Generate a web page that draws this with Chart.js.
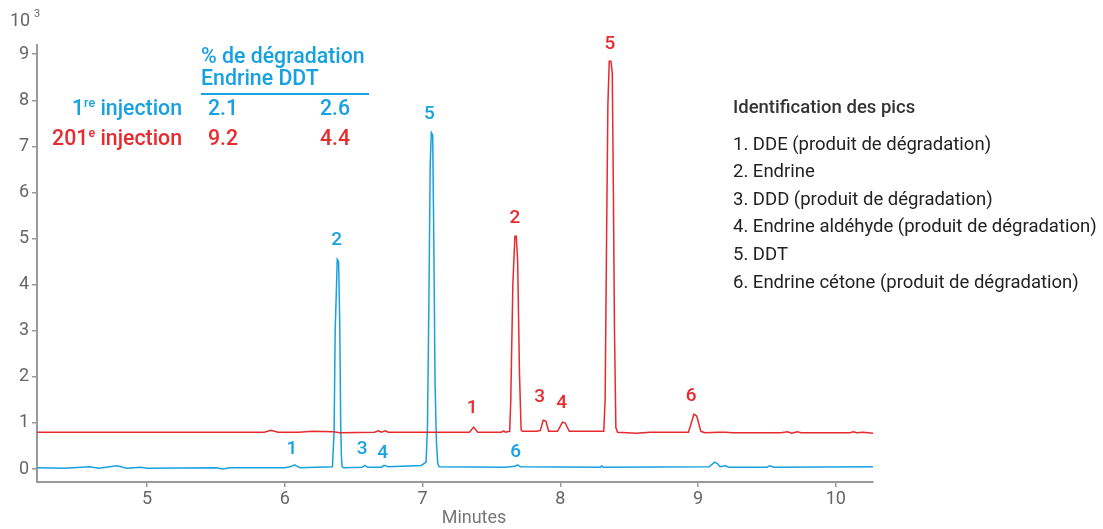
<!DOCTYPE html>
<html lang="fr">
<head>
  <meta charset="UTF-8">
  <title>Dégradation Endrine / DDT</title>
  <script src="https://cdn.jsdelivr.net/npm/chart.js"></script>
  <style>
    body { margin: 0; background: #fff; }
    #wrap { width: 1103px; height: 529px; }
  </style>
</head>
<body>
  <div id="wrap"><canvas id="chart" width="1103" height="529"></canvas></div>

  <script>
    // x axis (minutes) and y axis (10^3 counts)
    const xTicks = [5, 6, 7, 8, 9, 10];
    const yTicks = [0, 1, 2, 3, 4, 5, 6, 7, 8, 9];

    // 1st injection trace (blue)
    const blueTime = [4.2, 4.4, 4.58, 4.65, 4.78, 4.85, 4.95, 5.0, 5.5, 5.55, 5.6, 6.0, 6.05, 6.07, 6.09, 6.11,
      6.345, 6.357, 6.365, 6.373, 6.38, 6.39, 6.398, 6.405, 6.41, 6.415, 6.425, 6.56, 6.58, 6.60, 6.70, 6.72, 6.75,
      6.99, 7.025, 7.035, 7.045, 7.055, 7.063, 7.073, 7.081, 7.09, 7.1, 7.11, 7.12, 7.6, 7.67, 7.69, 7.71,
      8.29, 8.3, 8.31, 9.08, 9.12, 9.14, 9.16, 9.2, 9.22, 9.5, 9.52, 9.55, 10.27];
    const blueSignal = [0.03, 0.02, 0.05, 0.02, 0.07, 0.02, 0.04, 0.02, 0.03, 0.0, 0.03, 0.03, 0.06, 0.09, 0.06, 0.03,
      0.05, 0.8, 3.0, 3.8, 4.55, 4.5, 3.2, 1.0, 0.3, 0.06, 0.03, 0.04, 0.08, 0.04, 0.04, 0.08, 0.05,
      0.08, 0.15, 0.9, 3.5, 6.6, 7.3, 7.25, 5.0, 1.9, 0.6, 0.12, 0.05, 0.04, 0.06, 0.09, 0.05,
      0.04, 0.07, 0.04, 0.05, 0.15, 0.12, 0.05, 0.07, 0.04, 0.04, 0.07, 0.04, 0.05];

    // 201st injection trace (red)
    const redTime = [4.2, 5.85, 5.9, 5.95, 6.1, 6.2, 6.35, 6.4, 6.65, 6.68, 6.7, 6.73, 6.75, 7.34, 7.37, 7.40,
      7.57, 7.59, 7.6, 7.632, 7.64, 7.655, 7.67, 7.68, 7.69, 7.703, 7.715, 7.725, 7.83, 7.855, 7.875, 7.895, 7.915,
      7.98, 8.015, 8.035, 8.065, 8.315, 8.325, 8.335, 8.345, 8.355, 8.367, 8.377, 8.385, 8.393, 8.403, 8.415,
      8.55, 8.6, 8.65, 8.93, 8.97, 8.99, 9.02, 9.05, 9.15, 9.2, 9.25, 9.6, 9.65, 9.68, 9.72, 9.75,
      10.1, 10.13, 10.15, 10.2, 10.27];
    const redSignal = [0.80, 0.80, 0.84, 0.80, 0.80, 0.82, 0.81, 0.79, 0.80, 0.83, 0.80, 0.83, 0.80, 0.80, 0.91, 0.80,
      0.80, 0.83, 0.80, 0.82, 1.5, 4.0, 5.05, 5.05, 4.5, 2.1, 0.85, 0.82, 0.82, 0.84, 1.06, 1.04, 0.82,
      0.82, 1.02, 1.0, 0.82, 0.82, 1.5, 4.8, 7.9, 8.85, 8.85, 8.6, 6.0, 3.0, 0.9, 0.8,
      0.78, 0.79, 0.80, 0.80, 1.19, 1.15, 0.82, 0.79, 0.80, 0.80, 0.79, 0.79, 0.81, 0.78, 0.81, 0.79,
      0.79, 0.81, 0.79, 0.80, 0.78];

    // peak numbers: x position (min) and label height (10^3)
    const bluePeakIds = ['1', '2', '3', '4', '5', '6'];
    const bluePeakX = [6.05, 6.375, 6.56, 6.71, 7.05, 7.675];
    const bluePeakLabelY = [0.43, 4.97, 0.43, 0.35, 7.70, 0.37];
    const redPeakIds = ['1', '2', '3', '4', '5', '6'];
    const redPeakX = [7.36, 7.67, 7.85, 8.01, 8.36, 8.95];
    const redPeakLabelY = [1.32, 5.44, 1.56, 1.43, 9.22, 1.58];

    const endrineDeg = ['2.1', '9.2'];
    const ddtDeg = ['2.6', '4.4'];

    const peakNames = [
      '1. DDE (produit de dégradation)',
      '2. Endrine',
      '3. DDD (produit de dégradation)',
      '4. Endrine aldéhyde (produit de dégradation)',
      '5. DDT',
      '6. Endrine cétone (produit de dégradation)'
    ];

    const BLUE = '#17a1e0';
    const RED = '#e62a2e';
    const FONT = 'Roboto, "Noto Sans", sans-serif';

    const toPoints = (xs, ys) => xs.map((x, i) => ({ x: x, y: ys[i] }));

    const annotations = {
      id: 'annotations',
      afterDraw(chart) {
        const ctx = chart.ctx;
        const xs = chart.scales.x, ys = chart.scales.y;
        ctx.save();

        // peak numbers
        ctx.font = '500 19px ' + FONT;
        ctx.textAlign = 'center';
        ctx.textBaseline = 'middle';
        ctx.fillStyle = BLUE;
        bluePeakIds.forEach((id, i) => {
          ctx.fillText(id, xs.getPixelForValue(bluePeakX[i]), ys.getPixelForValue(bluePeakLabelY[i]));
        });
        ctx.fillStyle = RED;
        redPeakIds.forEach((id, i) => {
          ctx.fillText(id, xs.getPixelForValue(redPeakX[i]), ys.getPixelForValue(redPeakLabelY[i]));
        });

        // axis title and unit label 10^3
        ctx.fillStyle = '#777';
        ctx.font = '18px ' + FONT;
        ctx.fillText('Minutes', 474, 518);
        ctx.textAlign = 'left';
        ctx.fillStyle = '#666';
        ctx.fillText('10', 10, 21);
        ctx.font = '11px ' + FONT;
        ctx.fillText('3', 34, 14);

        // degradation table
        const big = '500 21.3px ' + FONT;
        ctx.font = big;
        ctx.fillStyle = BLUE;
        ctx.fillText('% de dégradation', 201, 58);
        ctx.fillText('Endrine DDT', 201, 80);
        ctx.strokeStyle = BLUE;
        ctx.lineWidth = 2;
        ctx.beginPath();
        ctx.moveTo(201, 94);
        ctx.lineTo(369, 94);
        ctx.stroke();

        const rowY = [110, 140];
        const rowColor = [BLUE, RED];
        const sup = ['re', 'e'];
        const lead = ['1', '201'];
        rowY.forEach((y, i) => {
          ctx.fillStyle = rowColor[i];
          ctx.font = big;
          ctx.textAlign = 'right';
          ctx.fillText(' injection', 182, y);
          const w1 = ctx.measureText(' injection').width;
          ctx.font = '500 12.5px ' + FONT;
          const w2 = ctx.measureText(sup[i]).width;
          ctx.fillText(sup[i], 182 - w1, y - 6);
          ctx.font = big;
          ctx.fillText(lead[i], 182 - w1 - w2, y);
          ctx.textAlign = 'left';
          ctx.fillText(endrineDeg[i], 208, y);
          ctx.fillText(ddtDeg[i], 320, y);
        });

        // peak identification list
        ctx.fillStyle = '#333';
        ctx.font = '500 18.5px ' + FONT;
        ctx.fillText('Identification des pics', 733, 108);
        ctx.fillStyle = '#222';
        ctx.font = '18.5px ' + FONT;
        peakNames.forEach((name, i) => {
          ctx.fillText(name, 733, 145 + i * 27.6);
        });
        ctx.restore();
      }
    };

    new Chart(document.getElementById('chart'), {
      type: 'line',
      data: {
        datasets: [
          {
            label: '201e injection',
            data: toPoints(redTime, redSignal),
            borderColor: RED,
            borderWidth: 1.5,
            pointRadius: 0,
            tension: 0
          },
          {
            label: '1re injection',
            data: toPoints(blueTime, blueSignal),
            borderColor: BLUE,
            borderWidth: 1.5,
            pointRadius: 0,
            tension: 0
          }
        ]
      },
      options: {
        responsive: false,
        animation: false,
        layout: { padding: { top: 45, right: 230, left: 0, bottom: 0 } },
        plugins: { legend: { display: false }, tooltip: { enabled: false } },
        scales: {
          x: {
            type: 'linear',
            min: 4.2,
            max: 10.27,
            afterBuildTicks: s => { s.ticks = xTicks.map(v => ({ value: v })); },
            afterFit: s => { s.height = 47; },
            grid: { drawOnChartArea: false, drawTicks: true, tickLength: 5, color: '#999', lineWidth: 1.5 },
            border: { color: '#999', width: 2 },
            ticks: { color: '#666', font: { family: FONT, size: 18 }, padding: 2 }
          },
          y: {
            min: -0.28,
            max: 9.2,
            afterBuildTicks: s => { s.ticks = yTicks.map(v => ({ value: v })); },
            afterFit: s => { s.width = 37; },
            grid: { drawOnChartArea: false, drawTicks: true, tickLength: 5, color: '#999', lineWidth: 1.5 },
            border: { color: '#999', width: 2 },
            ticks: { color: '#666', font: { family: FONT, size: 18 }, padding: 3 }
          }
        }
      },
      plugins: [annotations]
    });
  </script>
</body>
</html>
